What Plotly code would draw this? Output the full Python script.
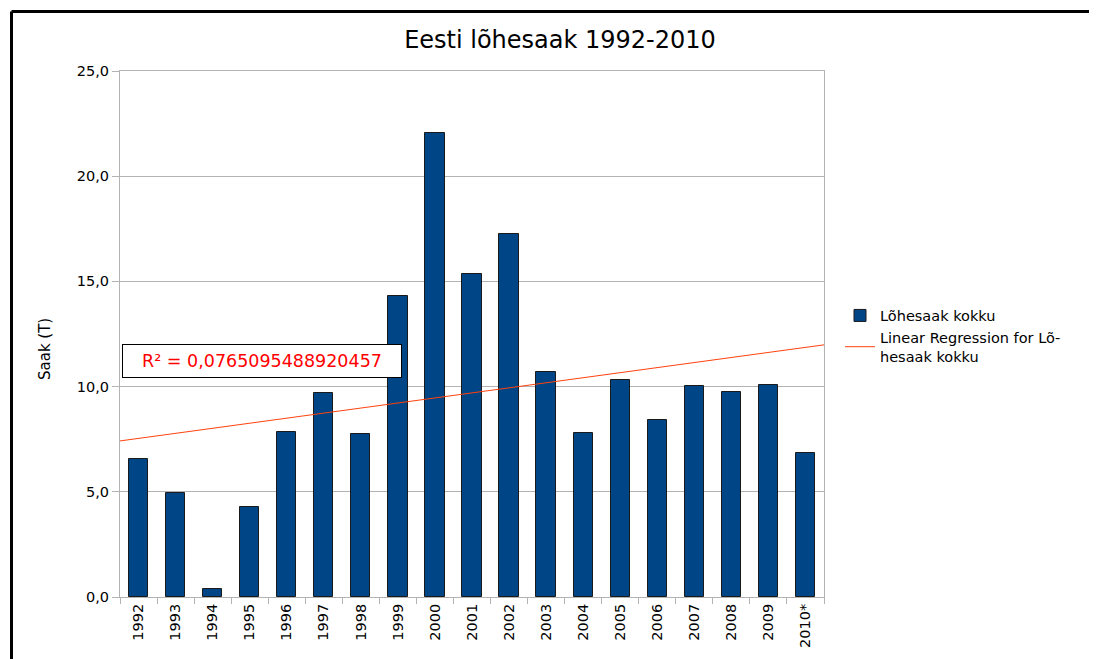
import numpy as np
import plotly.graph_objects as go

years = ["1992", "1993", "1994", "1995", "1996", "1997", "1998", "1999", "2000", "2001",
         "2002", "2003", "2004", "2005", "2006", "2007", "2008", "2009", "2010*"]
catch_t = [6.56, 4.94, 0.38, 4.28, 7.84, 9.70, 7.75, 14.31, 22.07, 15.35,
           17.25, 10.69, 7.79, 10.31, 8.41, 10.03, 9.74, 10.08, 6.84]
r2_text = "R² = 0,0765095488920457"

# page body has an 8px margin, so the figure is drawn at (8, 8)
OFF = 8
W, H = 1097 - OFF, 659 - OFF
L, R, T, B = 120 - OFF, 273, 71 - OFF, 62
font = "DejaVu Sans, Liberation Sans, Arial, sans-serif"

pos = np.arange(1, len(years) + 1)
slope, icept = np.polyfit(pos, catch_t, 1)
reg_x = np.array([0.5, len(years) + 0.5])
reg_y = slope * reg_x + icept

fig = go.Figure()
fig.add_trace(go.Bar(
    x=pos, y=catch_t, width=0.52, name="Lõhesaak kokku",
    marker=dict(color="#004586", line=dict(color="#1a1a1a", width=1)),
))
fig.add_trace(go.Scatter(
    x=reg_x, y=reg_y, mode="lines", name="Linear Regression for Lõ-<br>hesaak kokku",
    line=dict(color="#ff420e", width=1),
))

pw, ph = W - L - R, H - T - B


def px(xp):
    # page pixel x -> paper coordinate
    return (xp - 120) / pw


def py(yp):
    # page pixel y -> paper coordinate
    return (597 - yp) / ph


fig.update_layout(
    width=W, height=H,
    margin=dict(l=L, r=R, t=T, b=B),
    paper_bgcolor="white", plot_bgcolor="white",
    separators=",.",
    font=dict(family=font, size=14, color="#000000"),
    title=dict(text="Eesti lõhesaak 1992-2010", xref="paper", x=px(560), xanchor="center",
               yref="container", y=1 - (40 - OFF) / H, yanchor="middle", font=dict(size=24)),
    showlegend=True,
    legend=dict(x=px(840), y=py(336), xanchor="left", yanchor="middle",
                font=dict(size=14.5), itemwidth=30, tracegroupgap=0),
    bargap=0,
)

fig.update_xaxes(
    range=[0.5, len(years) + 0.5], tickmode="array", tickvals=pos, ticktext=years,
    tickangle=-90, ticks="", showgrid=False, zeroline=False,
    showline=True, linecolor="#b3b3b3", linewidth=1, mirror=True,
    minor=dict(ticks="outside", tick0=0.5, dtick=1, ticklen=6, tickcolor="#b3b3b3", showgrid=False),
    tickfont=dict(size=14.5),
)
fig.update_yaxes(
    range=[0, 25], dtick=5, tickformat=".1f", ticks="outside", ticklen=7,
    tickcolor="#b3b3b3", showgrid=True, gridcolor="#b3b3b3", gridwidth=1,
    zeroline=False, showline=True, linecolor="#b3b3b3", linewidth=1, mirror=True,
    tickfont=dict(size=14.5),
)

fig.add_annotation(
    text="Saak (T)", xref="paper", yref="paper", x=px(45), y=py(349),
    textangle=-90, showarrow=False, font=dict(size=15), xanchor="center", yanchor="middle",
)
fig.add_annotation(
    text=r2_text, xref="paper", yref="paper", x=px(122), y=py(361),
    xanchor="left", yanchor="middle", showarrow=False, align="center",
    font=dict(size=17.5, color="#ff0000"), bordercolor="#000000", borderwidth=1,
    borderpad=4, width=270, height=24, bgcolor="white",
)

# outer frame (only top and left edges visible)
fx0, fy0 = px(11.5), py(11.5)
fig.add_shape(type="line", xref="paper", yref="paper", x0=fx0, x1=px(1200),
              y0=fy0, y1=fy0, line=dict(color="black", width=3))
fig.add_shape(type="line", xref="paper", yref="paper", x0=fx0, x1=fx0,
              y0=fy0, y1=py(800), line=dict(color="black", width=3))

fig.write_html("out.html")
